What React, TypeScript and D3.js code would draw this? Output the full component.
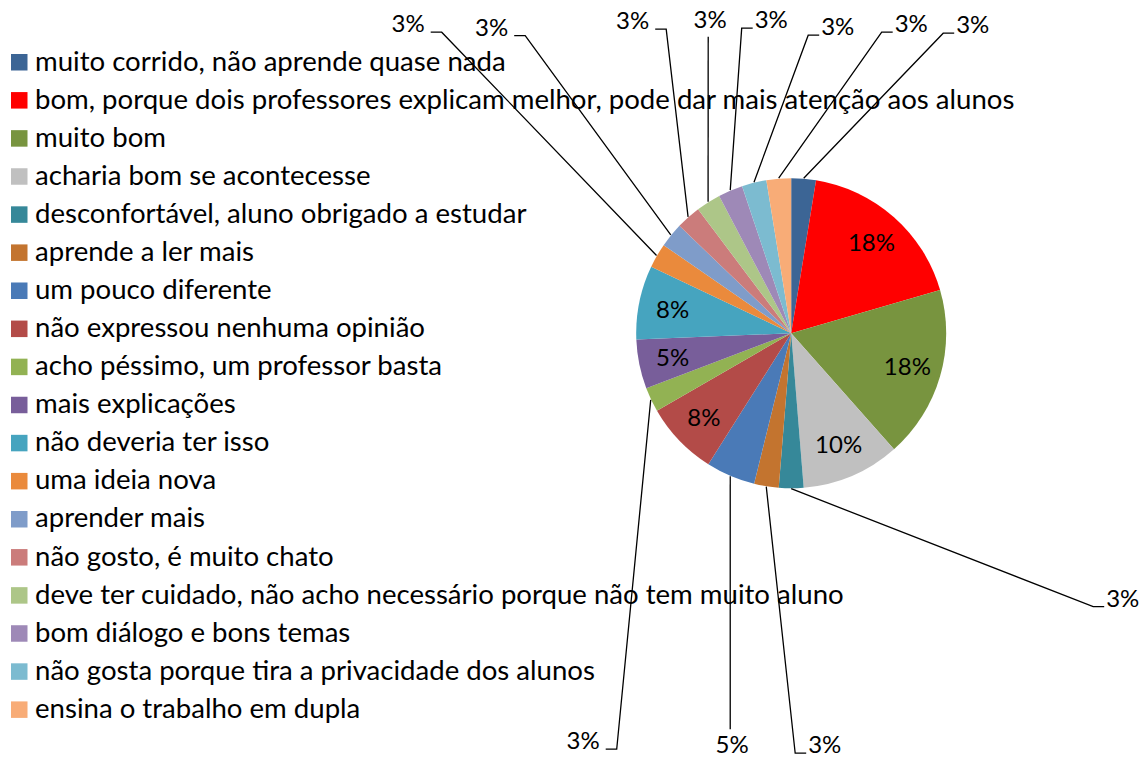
import { useEffect, useRef } from 'react';
import * as d3 from 'd3';

const categories = [
  'muito corrido, não aprende quase nada',
  'bom, porque dois professores explicam melhor, pode dar mais atenção aos alunos',
  'muito bom',
  'acharia bom se acontecesse',
  'desconfortável, aluno obrigado a estudar',
  'aprende a ler mais',
  'um pouco diferente',
  'não expressou nenhuma opinião',
  'acho péssimo, um professor basta',
  'mais explicações',
  'não deveria ter isso',
  'uma ideia nova',
  'aprender mais',
  'não gosto, é muito chato',
  'deve ter cuidado, não acho necessário porque não tem muito aluno',
  'bom diálogo e bons temas',
  'não gosta porque tira a privacidade dos alunos',
  'ensina o trabalho em dupla',
];

// number of answers per category (39 in total)
const counts = [1, 7, 7, 4, 1, 1, 2, 3, 1, 2, 3, 1, 1, 1, 1, 1, 1, 1];

const colors = [
  '#3C6595', '#FF0000', '#78943F', '#C0C0C0', '#368899', '#C3742F',
  '#4A7AB7', '#B34B48', '#92B253', '#785E9A', '#46A4BF', '#EA8A3C',
  '#7F9CC9', '#CB7C7B', '#ADC688', '#9E89B7', '#7CBBD0', '#F8AC77',
];

// slices whose percentage sits inside the pie
const insideLabels = [1, 2, 3, 7, 9, 10];

// slices labelled outside: elbow of the leader line relative to pie centre
const outsideLabels = [
  { i: 0, ex: 152, ey: -300, side: 'right' },
  { i: 17, ex: 90.5, ey: -301, side: 'right' },
  { i: 16, ex: 17, ey: -298, side: 'right' },
  { i: 15, ex: -49.5, ey: -305, side: 'right' },
  { i: 14, ex: -83, ey: -296.5, side: 'up' },
  { i: 13, ex: -125, ey: -304, side: 'left' },
  { i: 12, ex: -266, ey: -297.5, side: 'left' },
  { i: 11, ex: -349.5, ey: -301, side: 'left' },
  { i: 8, ex: -174.5, ey: 416, side: 'left' },
  { i: 6, ex: -61, ey: 396, side: 'down' },
  { i: 5, ex: 4, ey: 420, side: 'right' },
  { i: 4, ex: 302, ey: 273.5, side: 'right' },
];

const FONT = 'Lato, "Open Sans", sans-serif';

export default function App() {
  const ref = useRef<SVGSVGElement | null>(null);

  useEffect(() => {
    document.body.style.margin = '0';
    const width = 1143;
    const height = 758;
    const cx = 791.2;
    const cy = 333.2;
    const radius = 155;
    const labelSize = 24;

    const svg = d3.select(ref.current);
    svg.selectAll('*').remove();
    svg.attr('width', width).attr('height', height);

    svg
      .append('rect')
      .attr('width', width)
      .attr('height', height)
      .attr('fill', '#fff');

    // legend
    const rowY = d3
      .scaleLinear()
      .domain([0, categories.length - 1])
      .range([62, 709.4]);

    const legend = svg
      .append('g')
      .selectAll('g')
      .data(categories)
      .enter()
      .append('g')
      .attr('transform', (_d, i) => `translate(0,${rowY(i)})`);

    legend
      .append('rect')
      .attr('x', 11)
      .attr('y', -8)
      .attr('width', 16.5)
      .attr('height', 16.5)
      .attr('fill', (_d, i) => colors[i]);

    const legendText = legend
      .append('text')
      .attr('x', 35)
      .attr('y', 8.5)
      .style('font-family', FONT)
      .style('font-size', '24px')
      .style('fill', '#000')
      .text((d) => d);

    // scale the font so the longest entry spans like the original (~980px)
    const longest = legendText.nodes()[1] as SVGTextElement;
    const len = longest.getComputedTextLength();
    const fontSize = len > 0 ? Math.min(30, (24 * 980) / len) : 24;
    legendText.style('font-size', fontSize + 'px');

    // pie
    const total = d3.sum(counts);
    const pct = (v: number) => Math.round((v / total) * 100) + '%';
    const arcs = d3
      .pie<number>()
      .sort(null)
      .value((d) => d)(counts);

    const arc = d3.arc<d3.PieArcDatum<number>>().innerRadius(0).outerRadius(radius);
    const labelArc = d3
      .arc<d3.PieArcDatum<number>>()
      .innerRadius(121)
      .outerRadius(121);
    const edgeArc = d3
      .arc<d3.PieArcDatum<number>>()
      .innerRadius(radius + 0.5)
      .outerRadius(radius + 0.5);

    const pie = svg.append('g').attr('transform', `translate(${cx},${cy})`);

    pie
      .selectAll('path')
      .data(arcs)
      .enter()
      .append('path')
      .attr('d', arc)
      .attr('fill', (_d, i) => colors[i]);

    pie
      .selectAll('text.inside')
      .data(insideLabels)
      .enter()
      .append('text')
      .attr('class', 'inside')
      .attr('x', (i) => labelArc.centroid(arcs[i])[0])
      .attr('y', (i) => labelArc.centroid(arcs[i])[1] + 8.5)
      .attr('text-anchor', 'middle')
      .style('font-family', FONT)
      .style('font-size', labelSize + 'px')
      .style('fill', '#000')
      .text((i) => pct(counts[i]));

    // leader lines and outside labels
    const stub = 11;
    const out = pie.append('g').selectAll('g').data(outsideLabels).enter().append('g');

    out
      .append('path')
      .attr('fill', 'none')
      .attr('stroke', '#000')
      .attr('stroke-width', 1.3)
      .attr('d', (d) => {
        const [sx, sy] = edgeArc.centroid(arcs[d.i]);
        const p = d3.path();
        p.moveTo(sx, sy);
        p.lineTo(d.ex, d.ey);
        if (d.side === 'left') p.lineTo(d.ex - stub, d.ey);
        if (d.side === 'right') p.lineTo(d.ex + stub, d.ey);
        return p.toString();
      });

    out
      .append('text')
      .attr('x', (d) =>
        d.side === 'left' ? d.ex - stub - 6 : d.side === 'right' ? d.ex + stub + 2 : d.ex + 2,
      )
      .attr('y', (d) => (d.side === 'up' ? d.ey - 8.5 : d.side === 'down' ? d.ey + 24 : d.ey))
      .attr('text-anchor', (d) =>
        d.side === 'left' ? 'end' : d.side === 'right' ? 'start' : 'middle',
      )
      .style('font-family', FONT)
      .style('font-size', labelSize + 'px')
      .style('fill', '#000')
      .text((d) => pct(counts[d.i]));
  }, []);

  return <svg ref={ref} style={{ display: 'block' }} />;
}
